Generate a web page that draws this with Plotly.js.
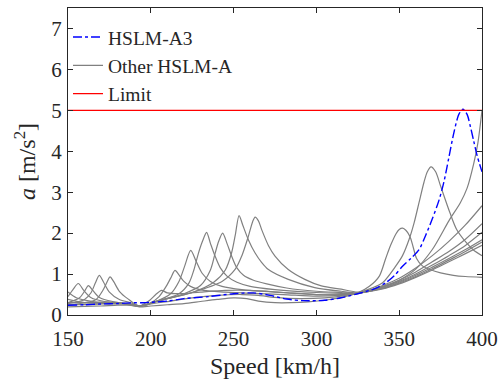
<!DOCTYPE html>
<html>
<head>
<meta charset="utf-8">
<script src="https://cdn.plot.ly/plotly-3.0.1.min.js"></script>
<style>html,body{margin:0;padding:0;background:#fff;}#chart{width:499px;height:387px;}</style>
</head>
<body>
<div id="chart"></div>
<script>
// HSLM-A1
var speedA1 = [150,160,170,180,187,193,200,210,220,230,240,250,258,265,275,285,295,305,315,325,332,338,342,345,348,350,352.1,354,356.5,358.5,360.5,364,368.6,375,382.7,390,400];
var accA1   = [0.2,0.21,0.22,0.24,0.24,0.2,0.22,0.25,0.28,0.33,0.38,0.42,0.4,0.34,0.3,0.3,0.32,0.36,0.43,0.54,0.7,0.95,1.4,1.72,1.98,2.09,2.12,2.07,1.92,1.65,1.38,1.2,1.11,1.03,0.97,0.94,0.92];
// HSLM-A2
var speedA2 = [150,165,180,187,193,200,212,225,240,255,265,275,290,305,318,325,333,340,348,352,356,359,362,365,367,369.2,372,375,380.7,384.7,390.7,395,400];
var accA2   = [0.25,0.26,0.28,0.27,0.22,0.27,0.34,0.42,0.48,0.5,0.48,0.43,0.4,0.42,0.48,0.54,0.65,0.79,1.2,1.45,1.85,2.25,2.75,3.25,3.5,3.62,3.5,3.15,2.49,2.09,1.76,1.58,1.45];
// HSLM-A3
var speedA3 = [150,160,170,180,190,195,200,210,220,235,250,262,272,282,292,305,315,325,335,342,347,352,357,362,366,370,374,377,380,383,386,388.5,391,393,395,397,400];
var accA3   = [0.24,0.25,0.27,0.28,0.3,0.3,0.31,0.34,0.4,0.45,0.52,0.54,0.48,0.39,0.35,0.36,0.42,0.52,0.64,0.79,0.96,1.19,1.38,1.6,1.95,2.35,2.8,3.25,3.85,4.45,4.9,5.03,4.9,4.6,4.25,3.9,3.5];
// HSLM-A4
var speedA4 = [150,165,180,193,199,203,206.5,210,218,230,245,260,280,300,315,325,340,350,360,370,380,387,391,395,397.5,400];
var accA4   = [0.3,0.3,0.3,0.22,0.35,0.5,0.6,0.54,0.52,0.56,0.6,0.6,0.55,0.5,0.5,0.53,0.68,0.85,1.12,1.6,2.3,2.75,3.1,3.7,4.2,5.0];
// HSLM-A5
var speedA5 = [150,160,175,186,193,200,205,209,212,214.6,217,220,224,232,245,260,280,300,315,325,340,350,360,370,380,390,400];
var accA5   = [0.38,0.3,0.28,0.27,0.22,0.3,0.45,0.68,0.9,1.09,0.98,0.82,0.7,0.6,0.56,0.53,0.5,0.46,0.48,0.52,0.72,0.9,1.15,1.45,1.8,2.2,2.67];
// HSLM-A6
var speedA6 = [150,155,165,180,193,203,212,217,220.5,224.1,227.5,231,236,243,255,275,300,315,325,340,350,360,370,380,390,400];
var accA6   = [0.56,0.42,0.33,0.3,0.22,0.33,0.52,0.82,1.2,1.58,1.3,1.02,0.82,0.7,0.62,0.56,0.5,0.5,0.53,0.7,0.85,1.05,1.3,1.55,1.85,2.23];
// HSLM-A7
var speedA7 = [150,153,156.2,159.5,164,172,185,193,205,217,223,226,228.7,231.2,233.7,236,238.8,242,246,252,260,275,300,315,325,340,350,360,370,380,390,400];
var accA7   = [0.45,0.62,0.77,0.6,0.42,0.33,0.28,0.22,0.35,0.52,0.78,1.1,1.5,1.8,2.02,1.75,1.44,1.15,0.95,0.8,0.7,0.62,0.55,0.53,0.53,0.68,0.82,1.0,1.22,1.45,1.7,2.02];
// HSLM-A8
var speedA8 = [150,157,160,162.3,165,169,177,186,193,205,220,230,236,238.8,241,243.4,246,248.8,252,256,262,270,282,300,315,325,340,350,360,370,380,390,400];
var accA8   = [0.3,0.42,0.58,0.72,0.6,0.43,0.33,0.28,0.22,0.35,0.52,0.72,1.1,1.5,1.8,2.0,1.75,1.44,1.15,0.97,0.85,0.76,0.66,0.58,0.55,0.53,0.66,0.8,0.97,1.17,1.38,1.6,1.84];
// HSLM-A9
var speedA9 = [150,160,164,166.5,168.9,171.5,175,181,188,193,205,225,238,245,248.8,251,253.3,255.5,258.9,262.9,267,271,283,299,315,325,340,350,360,370,380,390,400];
var accA9   = [0.28,0.38,0.55,0.78,0.97,0.8,0.56,0.38,0.3,0.22,0.35,0.55,0.8,1.1,1.52,1.95,2.43,2.2,1.84,1.52,1.28,1.11,0.87,0.67,0.58,0.54,0.65,0.78,0.94,1.13,1.34,1.55,1.78];
// HSLM-A10
var speedA10 = [150,160,167,171,173.5,175.4,177.5,181,186,193,205,225,243,251,255,258.9,261.5,263,265,267,271,275,283,293,303,315,325,340,350,360,370,380,390,400];
var accA10   = [0.25,0.3,0.38,0.6,0.8,0.93,0.82,0.58,0.4,0.22,0.35,0.55,0.82,1.12,1.45,1.92,2.28,2.39,2.3,2.08,1.7,1.44,1.11,0.87,0.71,0.63,0.56,0.64,0.76,0.92,1.1,1.3,1.5,1.7];
// Limit
var limitSpeed = [150, 400];
var limitAcc   = [5, 5];

var xTicks = [150,200,250,300,350,400];
var yTicks = [0,1,2,3,4,5,6,7];

var SERIF = 'Liberation Serif';

var others = [
  [speedA1, accA1], [speedA2, accA2], [speedA4, accA4], [speedA5, accA5],
  [speedA6, accA6], [speedA7, accA7], [speedA8, accA8], [speedA9, accA9], [speedA10, accA10]
];

var traces = [];
others.forEach(function (d, i) {
  traces.push({
    x: d[0], y: d[1], type: 'scatter', mode: 'lines',
    line: {color: '#808080', width: 1.2, shape: 'spline', smoothing: 0.8},
    name: 'Other HSLM-A', showlegend: i === 0, legendrank: 2
  });
});
traces.push({
  x: speedA3, y: accA3, type: 'scatter', mode: 'lines',
  line: {color: '#0000ff', width: 1.4, dash: 'dashdot', shape: 'spline', smoothing: 0.8},
  name: 'HSLM-A3', legendrank: 1
});
traces.push({
  x: limitSpeed, y: limitAcc, type: 'scatter', mode: 'lines',
  line: {color: '#ff0000', width: 1.3},
  name: 'Limit', legendrank: 3
});

var axisCommon = {
  showgrid: false, zeroline: false, showline: true, mirror: 'ticks',
  linecolor: '#262626', linewidth: 1, ticks: 'inside', ticklen: 5, tickcolor: '#262626',
  tickfont: {family: SERIF, size: 21, color: '#262626'}
};

var layout = {
  width: 499, height: 387,
  margin: {l: 68, r: 17, t: 8, b: 72},
  paper_bgcolor: '#ffffff', plot_bgcolor: '#ffffff',
  font: {family: SERIF, color: '#262626'},
  xaxis: Object.assign({}, axisCommon, {
    range: [150, 400], tickvals: xTicks, ticktext: xTicks.map(String),
    ticklabelstandoff: 5,
    title: {text: 'Speed [km/h]', font: {family: SERIF, size: 24, color: '#262626'}, standoff: 6}
  }),
  yaxis: Object.assign({}, axisCommon, {
    range: [0, 7.5], tickvals: yTicks, ticktext: yTicks.map(String),
    ticklabelstandoff: 1,
    title: {text: '<i>a</i> [m/s<sup>2</sup>]', font: {family: SERIF, size: 24, color: '#262626'}, standoff: 8}
  }),
  showlegend: true,
  legend: {
    x: 0.0, y: 0.968, xanchor: 'left', yanchor: 'top',
    bgcolor: 'rgba(0,0,0,0)', borderwidth: 0,
    font: {family: SERIF, size: 19.5, color: '#262626'},
    itemwidth: 30, tracegroupgap: 0
  }
};

Plotly.newPlot('chart', traces, layout, {displayModeBar: false, staticPlot: true});
</script>
</body>
</html>
